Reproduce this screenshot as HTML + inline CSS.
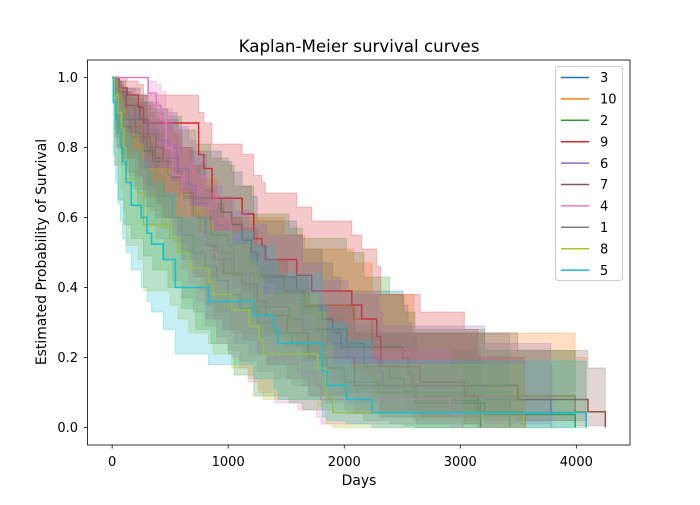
<!DOCTYPE html>
<html><head><meta charset="utf-8"><style>
body{margin:0;background:#fff;}
svg{font-family:"DejaVu Sans","Liberation Sans",sans-serif;}
</style></head><body>
<svg id="chart" width="700" height="500" xmlns="http://www.w3.org/2000/svg">
<rect width="700" height="500" fill="#fff"/>
<text x="359" y="52" font-size="16.7" text-anchor="middle">Kaplan-Meier survival curves</text>
<text x="359" y="485" font-size="13.9" text-anchor="middle">Days</text>
<text x="0" y="0" font-size="13.9" text-anchor="middle" transform="translate(46,252) rotate(-90)">Estimated Probability of Survival</text>
<g id="plot"></g>
<g id="axes"></g>
<g id="legend"></g>
</svg>
<script>
const seriesNames = ["3","10","2","9","6","7","4","1","8","5"];
const seriesColors = ["#1f77b4","#ff7f0e","#2ca02c","#d62728","#9467bd","#8c564b","#e377c2","#7f7f7f","#bcbd22","#17becf"];
const xTicks = [0,1000,2000,3000,4000];
const yTicks = [0.0,0.2,0.4,0.6,0.8,1.0];
// each row: [time, survival, ci_lower, ci_upper]
const s3 = [[0,1,1,1],[30,.96,.85,.99],[80,.92,.78,.97],[120,.88,.73,.95],[200,.84,.68,.93],[300,.8,.63,.9],[370,.77,.6,.88],[570,.73,.56,.85],[600,.655,.48,.79],[940,.615,.44,.76],[1030,.58,.4,.73],[1120,.535,.36,.69],[1200,.5,.33,.66],[1250,.43,.26,.59],[1590,.39,.23,.55],[1640,.345,.19,.51],[1810,.31,.17,.47],[1900,.27,.13,.43],[1970,.23,.1,.39],[2505,.2,.08,.35],[2550,.157,.05,.3],[2580,.117,.03,.26],[2620,.077,.01,.22],[3175,0,0,0]];
const s10 = [[0,1,1,1],[30,.95,.84,.99],[80,.9,.77,.96],[150,.86,.72,.94],[270,.83,.68,.92],[330,.78,.62,.88],[425,.74,.57,.85],[560,.68,.51,.8],[685,.61,.44,.75],[760,.56,.39,.71],[900,.5,.33,.65],[1030,.435,.27,.6],[1480,.39,.23,.55],[1660,.35,.2,.51],[2080,.31,.16,.47],[2240,.22,.09,.38],[2600,.09,.02,.27],[3990,.045,.005,.2],[4085,0,0,0]];
const s2 = [[0,1,1,1],[20,.95,.75,1],[50,.9,.65,.98],[100,.86,.58,.96],[165,.83,.54,.95],[270,.79,.49,.93],[350,.76,.45,.91],[480,.72,.4,.89],[600,.66,.34,.85],[720,.6,.28,.81],[850,.55,.24,.77],[1000,.52,.21,.75],[1050,.44,.15,.69],[1220,.345,.09,.61],[1525,.31,.07,.57],[1640,.28,.05,.54],[2020,.24,.04,.5],[2170,.174,.02,.43],[2390,.14,.01,.38],[2515,.105,.005,.33],[2610,.07,0,.28],[3210,.037,0,.22],[3990,0,0,0]];
const s9 = [[0,1,1,1],[40,.97,.8,1],[130,.95,.77,.99],[225,.915,.72,.98],[270,.87,.66,.95],[745,.78,.56,.9],[790,.74,.52,.87],[860,.655,.43,.81],[1120,.61,.39,.78],[1220,.54,.32,.72],[1290,.52,.3,.7],[1320,.48,.27,.67],[1590,.435,.23,.63],[1720,.39,.2,.59],[2065,.35,.17,.55],[2150,.31,.14,.51],[2280,.26,.1,.46],[2315,.174,.05,.38],[2655,.13,.03,.33],[3035,.09,.01,.28],[3150,.045,0,.2],[3555,0,0,0]];
const s6 = [[0,1,1,1],[40,.96,.84,.99],[100,.92,.77,.97],[200,.88,.71,.95],[300,.85,.67,.93],[400,.82,.63,.91],[480,.8,.6,.9],[560,.74,.53,.86],[660,.69,.48,.82],[720,.64,.43,.78],[815,.52,.31,.69],[945,.48,.28,.66],[1050,.44,.24,.62],[1180,.4,.21,.58],[1330,.365,.18,.55],[1640,.28,.12,.47],[1810,.24,.09,.42],[2030,.2,.07,.38],[2300,.16,.05,.33],[2330,.12,.03,.29],[3210,.08,.01,.24],[3780,.04,0,.18],[3790,.04,0,.18]];
const s7 = [[0,1,1,1],[60,.96,.85,.99],[120,.92,.79,.97],[240,.88,.74,.95],[310,.84,.69,.92],[380,.8,.64,.9],[440,.76,.6,.87],[520,.715,.55,.84],[600,.67,.5,.8],[700,.6,.43,.75],[800,.52,.35,.68],[880,.48,.31,.64],[960,.44,.28,.6],[1120,.41,.25,.57],[1250,.36,.21,.52],[1330,.32,.18,.48],[1510,.27,.14,.43],[1690,.2,.09,.35],[2090,.12,.04,.27],[3495,.08,.02,.22],[4100,.045,.005,.17],[4250,0,0,0]];
const s4 = [[0,1,1,1],[310,.955,.84,.99],[380,.92,.78,.98],[420,.88,.72,.96],[465,.8,.62,.91],[520,.72,.53,.85],[600,.64,.45,.79],[660,.6,.41,.76],[720,.55,.36,.72],[800,.5,.31,.67],[900,.42,.24,.6],[1030,.37,.2,.55],[1100,.33,.17,.51],[1170,.285,.13,.46],[1260,.24,.1,.41],[1400,.2,.07,.37],[1600,.157,.05,.32],[1760,.117,.03,.27],[1800,.08,.01,.22],[2910,.04,0,.17],[3020,0,0,0]];
const s1 = [[0,1,1,1],[30,.95,.83,.99],[80,.9,.75,.96],[150,.85,.69,.93],[220,.8,.63,.9],[300,.76,.58,.87],[380,.72,.54,.84],[450,.66,.48,.79],[520,.6,.42,.74],[600,.55,.37,.7],[700,.5,.33,.66],[800,.46,.29,.62],[900,.42,.26,.58],[1000,.38,.22,.54],[1100,.34,.19,.5],[1250,.3,.16,.46],[1400,.27,.14,.43],[1550,.24,.12,.4],[1700,.2,.09,.35],[1850,.17,.07,.32],[2000,.13,.05,.29],[2300,.1,.03,.27],[3425,0,0,0]];
const s8 = [[0,1,1,1],[20,.95,.83,.99],[50,.9,.75,.97],[80,.85,.68,.94],[100,.8,.62,.91],[120,.71,.52,.84],[225,.67,.48,.81],[270,.58,.39,.74],[500,.54,.35,.7],[570,.5,.31,.67],[660,.455,.27,.63],[830,.416,.24,.59],[870,.38,.21,.56],[1030,.336,.17,.52],[1180,.29,.14,.47],[1265,.25,.11,.43],[1300,.21,.08,.38],[1770,.17,.06,.33],[1840,.085,.01,.24],[1900,.043,0,.18],[3550,0,0,0]];
const s5 = [[0,1,1,1],[10,.93,.78,.98],[30,.88,.7,.96],[50,.84,.64,.93],[70,.8,.59,.91],[90,.76,.54,.88],[120,.7,.5,.84],[165,.635,.45,.79],[250,.6,.4,.76],[300,.555,.36,.73],[340,.524,.33,.7],[440,.48,.28,.67],[545,.4,.21,.6],[830,.36,.18,.56],[1220,.32,.14,.52],[1395,.28,.11,.48],[1430,.24,.08,.44],[1810,.16,.03,.35],[1850,.12,.02,.3],[2020,.08,.01,.25],[2240,.043,0,.19],[4085,0,0,0]];
const allSeries = [s3,s10,s2,s9,s6,s7,s4,s1,s8,s5];

const L=87.5,R=630,T=60,B=445;
const xMin=-212.5,xMax=4462.5,yMin=-0.05,yMax=1.05;
const X=v=>L+(v-xMin)/(xMax-xMin)*(R-L);
const Y=v=>B-(v-yMin)/(yMax-yMin)*(B-T);
const NS="http://www.w3.org/2000/svg";
function mk(tag,attrs,parent){const e=document.createElementNS(NS,tag);for(const k in attrs)e.setAttribute(k,attrs[k]);parent.appendChild(e);return e;}
const plot=document.getElementById('plot');
const axes=document.getElementById('axes');
const legend=document.getElementById('legend');

allSeries.forEach((d,i)=>{
  const col=seriesColors[i];
  let up=[],lo=[];
  for(let k=0;k<d.length;k++){
    const t=d[k][0];
    const tn=k<d.length-1?d[k+1][0]:t;
    up.push([X(t),Y(d[k][3])],[X(tn),Y(d[k][3])]);
    lo.push([X(t),Y(d[k][2])],[X(tn),Y(d[k][2])]);
  }
  const pts=up.concat(lo.reverse()).map(p=>p[0].toFixed(2)+','+p[1].toFixed(2)).join(' ');
  const band=mk('polygon',{points:pts,fill:col,'fill-opacity':0.25,stroke:col,'stroke-opacity':0.25,'stroke-width':1},plot);
  
  
  let p='M'+X(d[0][0]).toFixed(2)+' '+Y(d[0][1]).toFixed(2);
  for(let k=1;k<d.length;k++){p+=' H'+X(d[k][0]).toFixed(2)+' V'+Y(d[k][1]).toFixed(2);}
  const line=mk('path',{d:p,fill:'none',stroke:col,'stroke-width':1.5},plot);
  
  
});

const frame=mk('rect',{x:L,y:T,width:R-L,height:B-T,fill:'none',stroke:'#000','stroke-width':0.8},axes);


xTicks.forEach(v=>{
  mk('line',{x1:X(v),x2:X(v),y1:B,y2:B+3.5,stroke:'#000','stroke-width':0.8},axes);
  const t=mk('text',{x:X(v),y:B+21,'font-size':13,'text-anchor':'middle'},axes);
  t.textContent=v;
  
  
});
yTicks.forEach(v=>{
  mk('line',{x1:L-3.5,x2:L,y1:Y(v),y2:Y(v),stroke:'#000','stroke-width':0.8},axes);
  const t=mk('text',{x:L-9.5,y:Y(v)+4.7,'font-size':13,'text-anchor':'end'},axes);
  t.textContent=v.toFixed(1);
  
  
});

const lbox=mk('rect',{x:555.5,y:66.5,width:67,height:214,rx:3,fill:'#fff','fill-opacity':0.8,stroke:'#ccc','stroke-width':1},legend);


seriesNames.forEach((n,i)=>{
  const y=77.5+i*21.4;
  const g=mk('g',{},legend);
  
  
  mk('line',{x1:561,x2:589,y1:y,y2:y,stroke:seriesColors[i],'stroke-width':1.5},g);
  const t=mk('text',{x:600,y:y+4.7,'font-size':13},g);
  t.textContent=n;
});
</script>
</body></html>
